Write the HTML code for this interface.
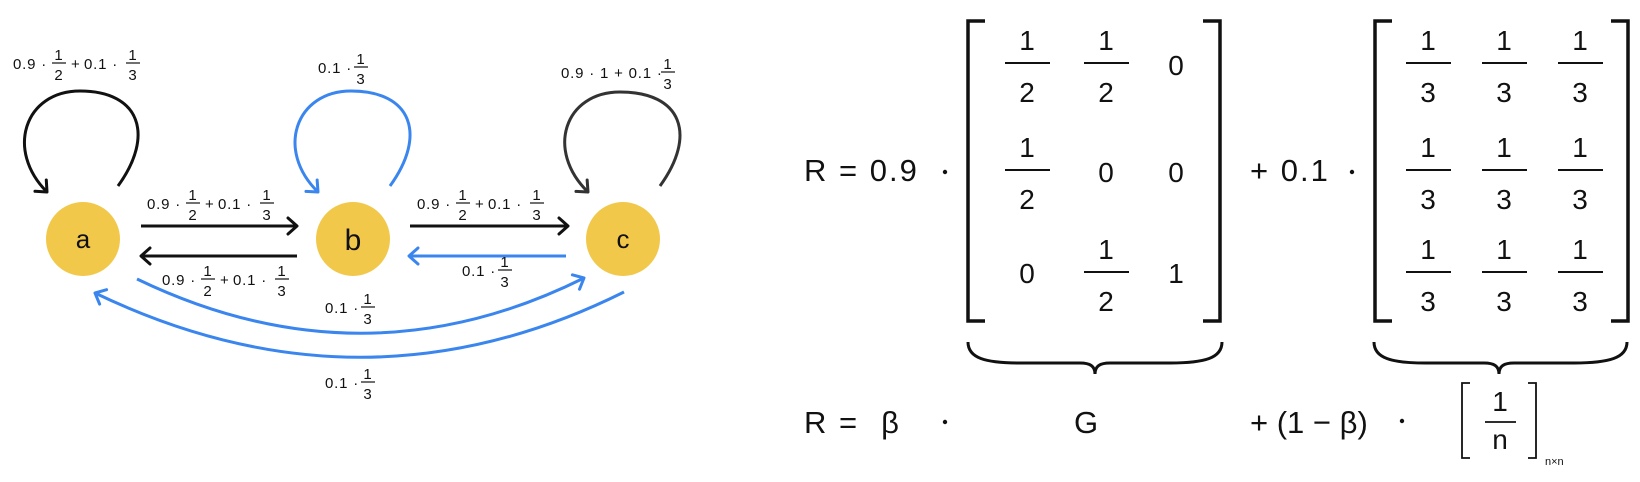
<!DOCTYPE html>
<html><head><meta charset="utf-8"><style>
html,body{margin:0;padding:0;background:#fff;}
svg{display:block;}
text{font-family:"Liberation Sans",sans-serif;fill:#111;}
.s{font-size:15px;letter-spacing:0.8px;}
.m{font-size:28px;}
.e{font-size:31px;letter-spacing:2px;}
</style></head><body>
<svg width="1640" height="482" viewBox="0 0 1640 482" xmlns="http://www.w3.org/2000/svg">
<defs>
<marker id="mk" markerUnits="userSpaceOnUse" markerWidth="24" markerHeight="24" refX="0" refY="0" viewBox="-12 -12 24 24" orient="auto" overflow="visible"><path d="M-9,-8 L0,0 L-9,8" fill="none" stroke="#111" stroke-width="3" stroke-linecap="round" stroke-linejoin="round"/></marker>
<marker id="mb" markerUnits="userSpaceOnUse" markerWidth="24" markerHeight="24" refX="0" refY="0" viewBox="-12 -12 24 24" orient="auto" overflow="visible"><path d="M-9,-8 L0,0 L-9,8" fill="none" stroke="#3a86ee" stroke-width="3" stroke-linecap="round" stroke-linejoin="round"/></marker>
<marker id="mg" markerUnits="userSpaceOnUse" markerWidth="24" markerHeight="24" refX="0" refY="0" viewBox="-12 -12 24 24" orient="auto" overflow="visible"><path d="M-9,-8 L0,0 L-9,8" fill="none" stroke="#333" stroke-width="3" stroke-linecap="round" stroke-linejoin="round"/></marker>
</defs>

<circle cx="83" cy="239" r="37" fill="#f2c84b"/>
<circle cx="353" cy="239" r="37" fill="#f2c84b"/>
<circle cx="623" cy="239" r="37" fill="#f2c84b"/>
<text x="83" y="248" font-size="26" text-anchor="middle">a</text>
<text x="353" y="250" font-size="30" text-anchor="middle">b</text>
<text x="623" y="248" font-size="26" text-anchor="middle">c</text>

<path d="M118,186 C155,135 140,91 80,91 C25,91 5,150 47,192" fill="none" stroke="#111" stroke-width="3" marker-end="url(#mk)"/>
<path d="M390,186 C427,135 412,91 351,91 C296,91 275,150 318,192" fill="none" stroke="#3a86ee" stroke-width="3" marker-end="url(#mb)"/>
<path d="M660,186 C697,135 682,92 620,92 C565,92 545,150 588,192" fill="none" stroke="#333" stroke-width="3" marker-end="url(#mg)"/>

<line x1="141" y1="226" x2="297" y2="226" stroke="#111" stroke-width="3" marker-end="url(#mk)"/>
<line x1="297" y1="256" x2="141" y2="256" stroke="#111" stroke-width="3" marker-end="url(#mk)"/>
<line x1="410" y1="226" x2="568" y2="226" stroke="#111" stroke-width="3" marker-end="url(#mk)"/>
<line x1="566" y1="256" x2="409" y2="256" stroke="#3a86ee" stroke-width="3" marker-end="url(#mb)"/>

<path d="M137,279 Q363,388 584,278" fill="none" stroke="#3a86ee" stroke-width="3" marker-end="url(#mb)"/>
<path d="M624,292 Q363,422 95,293" fill="none" stroke="#3a86ee" stroke-width="3" marker-end="url(#mb)"/>

<g class="s" transform="translate(13,63)">
<text x="0" y="6">0.9 ·</text><text x="46" y="-3" text-anchor="middle">1</text><line x1="39" y1="0" x2="53" y2="0" stroke="#111" stroke-width="1.2"/><text x="46" y="17" text-anchor="middle">2</text><text x="58" y="6">+</text><text x="71" y="6">0.1 ·</text><text x="120" y="-3" text-anchor="middle">1</text><line x1="113" y1="0" x2="127" y2="0" stroke="#111" stroke-width="1.2"/><text x="120" y="17" text-anchor="middle">3</text>
</g>
<g class="s" transform="translate(147,203)">
<text x="0" y="6">0.9 ·</text><text x="46" y="-3" text-anchor="middle">1</text><line x1="39" y1="0" x2="53" y2="0" stroke="#111" stroke-width="1.2"/><text x="46" y="17" text-anchor="middle">2</text><text x="58" y="6">+</text><text x="71" y="6">0.1 ·</text><text x="120" y="-3" text-anchor="middle">1</text><line x1="113" y1="0" x2="127" y2="0" stroke="#111" stroke-width="1.2"/><text x="120" y="17" text-anchor="middle">3</text>
</g>
<g class="s" transform="translate(162,279)">
<text x="0" y="6">0.9 ·</text><text x="46" y="-3" text-anchor="middle">1</text><line x1="39" y1="0" x2="53" y2="0" stroke="#111" stroke-width="1.2"/><text x="46" y="17" text-anchor="middle">2</text><text x="58" y="6">+</text><text x="71" y="6">0.1 ·</text><text x="120" y="-3" text-anchor="middle">1</text><line x1="113" y1="0" x2="127" y2="0" stroke="#111" stroke-width="1.2"/><text x="120" y="17" text-anchor="middle">3</text>
</g>
<g class="s" transform="translate(417,203)">
<text x="0" y="6">0.9 ·</text><text x="46" y="-3" text-anchor="middle">1</text><line x1="39" y1="0" x2="53" y2="0" stroke="#111" stroke-width="1.2"/><text x="46" y="17" text-anchor="middle">2</text><text x="58" y="6">+</text><text x="71" y="6">0.1 ·</text><text x="120" y="-3" text-anchor="middle">1</text><line x1="113" y1="0" x2="127" y2="0" stroke="#111" stroke-width="1.2"/><text x="120" y="17" text-anchor="middle">3</text>
</g>
<g class="s" transform="translate(561,72)">
<text x="0" y="6">0.9 · 1 + 0.1 ·</text><text x="107" y="-3" text-anchor="middle">1</text><line x1="100" y1="0" x2="114" y2="0" stroke="#111" stroke-width="1.2"/><text x="107" y="17" text-anchor="middle">3</text>
</g>
<g class="s" transform="translate(318,67)"><text x="0" y="6">0.1 ·</text><text x="43" y="-3" text-anchor="middle">1</text><line x1="36" y1="0" x2="50" y2="0" stroke="#111" stroke-width="1.2"/><text x="43" y="17" text-anchor="middle">3</text></g>
<g class="s" transform="translate(462,270)"><text x="0" y="6">0.1 ·</text><text x="43" y="-3" text-anchor="middle">1</text><line x1="36" y1="0" x2="50" y2="0" stroke="#111" stroke-width="1.2"/><text x="43" y="17" text-anchor="middle">3</text></g>
<g class="s" transform="translate(325,307)"><text x="0" y="6">0.1 ·</text><text x="43" y="-3" text-anchor="middle">1</text><line x1="36" y1="0" x2="50" y2="0" stroke="#111" stroke-width="1.2"/><text x="43" y="17" text-anchor="middle">3</text></g>
<g class="s" transform="translate(325,382)"><text x="0" y="6">0.1 ·</text><text x="43" y="-3" text-anchor="middle">1</text><line x1="36" y1="0" x2="50" y2="0" stroke="#111" stroke-width="1.2"/><text x="43" y="17" text-anchor="middle">3</text></g>

<text class="e" x="804" y="181">R = 0.9</text>
<circle cx="945" cy="172" r="2.2" fill="#111"/>
<path d="M985,21 L968,21 L968,321 L985,321" fill="none" stroke="#111" stroke-width="3.5"/>
<path d="M1203,21 L1220,21 L1220,321 L1203,321" fill="none" stroke="#111" stroke-width="3.5"/>
<g class="m" text-anchor="middle">
<text x="1027" y="50">1</text><line x1="1005" y1="63" x2="1050" y2="63" stroke="#111" stroke-width="2"/><text x="1027" y="102">2</text>
<text x="1106" y="50">1</text><line x1="1084" y1="63" x2="1129" y2="63" stroke="#111" stroke-width="2"/><text x="1106" y="102">2</text>
<text x="1176" y="75">0</text>
<text x="1027" y="157">1</text><line x1="1005" y1="170" x2="1050" y2="170" stroke="#111" stroke-width="2"/><text x="1027" y="209">2</text>
<text x="1106" y="182">0</text><text x="1176" y="182">0</text>
<text x="1027" y="283">0</text>
<text x="1106" y="259">1</text><line x1="1084" y1="272" x2="1129" y2="272" stroke="#111" stroke-width="2"/><text x="1106" y="311">2</text>
<text x="1176" y="283">1</text>
</g>
<text class="e" x="1250" y="181">+ 0.1</text>
<circle cx="1352" cy="172" r="2.2" fill="#111"/>
<path d="M1392,21 L1375,21 L1375,321 L1392,321" fill="none" stroke="#111" stroke-width="3.5"/>
<path d="M1611,21 L1628,21 L1628,321 L1611,321" fill="none" stroke="#111" stroke-width="3.5"/>
<g class="m" text-anchor="middle">
<text x="1428" y="50">1</text><line x1="1406" y1="63" x2="1451" y2="63" stroke="#111" stroke-width="2"/><text x="1428" y="102">3</text>
<text x="1504" y="50">1</text><line x1="1482" y1="63" x2="1527" y2="63" stroke="#111" stroke-width="2"/><text x="1504" y="102">3</text>
<text x="1580" y="50">1</text><line x1="1558" y1="63" x2="1603" y2="63" stroke="#111" stroke-width="2"/><text x="1580" y="102">3</text>
<text x="1428" y="157">1</text><line x1="1406" y1="170" x2="1451" y2="170" stroke="#111" stroke-width="2"/><text x="1428" y="209">3</text>
<text x="1504" y="157">1</text><line x1="1482" y1="170" x2="1527" y2="170" stroke="#111" stroke-width="2"/><text x="1504" y="209">3</text>
<text x="1580" y="157">1</text><line x1="1558" y1="170" x2="1603" y2="170" stroke="#111" stroke-width="2"/><text x="1580" y="209">3</text>
<text x="1428" y="259">1</text><line x1="1406" y1="272" x2="1451" y2="272" stroke="#111" stroke-width="2"/><text x="1428" y="311">3</text>
<text x="1504" y="259">1</text><line x1="1482" y1="272" x2="1527" y2="272" stroke="#111" stroke-width="2"/><text x="1504" y="311">3</text>
<text x="1580" y="259">1</text><line x1="1558" y1="272" x2="1603" y2="272" stroke="#111" stroke-width="2"/><text x="1580" y="311">3</text>
</g>

<path d="M968,342 C968,358 985,363 1020,363 L1080,363 C1090,363 1095,366 1095,374 C1095,366 1100,363 1110,363 L1170,363 C1205,363 1222,358 1222,342" fill="none" stroke="#111" stroke-width="3"/>
<path d="M1374,342 C1374,358 1391,363 1426,363 L1484,363 C1494,363 1499,366 1499,374 C1499,366 1504,363 1514,363 L1574,363 C1609,363 1627,358 1627,342" fill="none" stroke="#111" stroke-width="3"/>

<text class="e" x="804" y="433">R =</text>
<text class="e" x="891" y="433" text-anchor="middle">β</text>
<circle cx="945" cy="422" r="2.2" fill="#111"/>
<text class="e" x="1087" y="433" text-anchor="middle">G</text>
<text class="e" x="1250" y="433" style="letter-spacing:0">+ (1 − β)</text>
<circle cx="1402" cy="421" r="2.2" fill="#111"/>
<path d="M1470,383 L1462,383 L1462,458 L1470,458" fill="none" stroke="#111" stroke-width="1.8"/>
<path d="M1528,383 L1536,383 L1536,458 L1528,458" fill="none" stroke="#111" stroke-width="1.8"/>
<text class="m" x="1500" y="411" text-anchor="middle">1</text>
<line x1="1485" y1="422" x2="1516" y2="422" stroke="#111" stroke-width="1.8"/>
<text class="m" x="1500" y="449" text-anchor="middle">n</text>
<text x="1545" y="465" font-size="11">n×n</text>
</svg>
</body></html>
